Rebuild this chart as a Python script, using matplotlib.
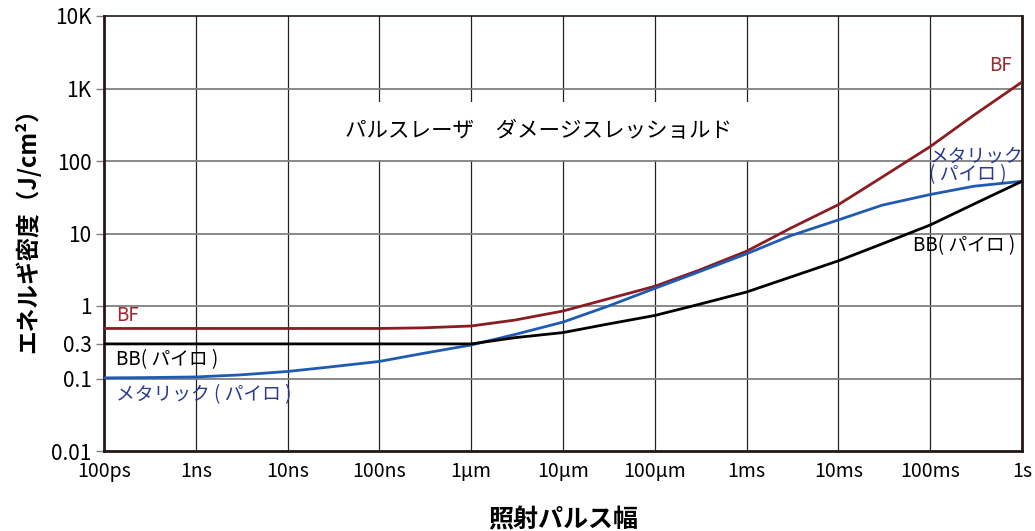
import numpy as np
import matplotlib
matplotlib.use('Agg')
import matplotlib.pyplot as plt
from matplotlib.ticker import FixedLocator, NullLocator

plt.rcParams['font.family'] = ['Noto Sans CJK JP', 'DejaVu Sans']

# pulse width (s), read at decade and half-decade points
t = [1e-10, 3e-10, 1e-9, 3e-9, 1e-8, 3e-8, 1e-7, 3e-7, 1e-6, 3e-6, 1e-5, 3e-5,
     1e-4, 3e-4, 1e-3, 3e-3, 1e-2, 3e-2, 1e-1, 3e-1, 1.0]

# damage threshold (J/cm2)
bf = [0.49, 0.49, 0.49, 0.49, 0.49, 0.49, 0.49, 0.50, 0.53, 0.64, 0.853, 1.24,
      1.87, 3.1, 5.7, 11.8, 25, 60, 158, 430, 1230]
bb = [0.3, 0.3, 0.3, 0.3, 0.3, 0.3, 0.3, 0.3, 0.3, 0.366, 0.43, 0.56,
      0.74, 1.05, 1.56, 2.5, 4.2, 7.2, 13.1, 25.5, 52.5]
metal = [0.102, 0.103, 0.105, 0.112, 0.125, 0.145, 0.172, 0.222, 0.29, 0.405, 0.6, 0.98,
         1.75, 2.95, 5.25, 9.3, 15.4, 24.6, 34.5, 44.9, 52.5]

x_ticks = [1e-10, 1e-9, 1e-8, 1e-7, 1e-6, 1e-5, 1e-4, 1e-3, 1e-2, 1e-1, 1.0]
x_labels = ['100ps', '1ns', '10ns', '100ns', '1µm', '10µm', '100µm', '1ms', '10ms', '100ms', '1s']
y_ticks = [0.01, 0.1, 0.3, 1, 10, 100, 1000, 10000]
y_labels = ['0.01', '0.1', '0.3', '1', '10', '100', '1K', '10K']
y_grid = [0.01, 0.1, 1, 10, 100, 1000, 10000]

red = '#8a1c22'
blue = '#1f5bb3'
navy = '#2b3990'
axcol = '#231815'

fig = plt.figure(figsize=(10.35, 5.31), dpi=100)
ax = fig.add_axes([104/1035, 1 - 451/531, (1022-104)/1035, (451-16)/531])
ax.set_xscale('log')
ax.set_yscale('log')
ax.set_xlim(1e-10, 1.0)
ax.set_ylim(0.01, 10000)

for x in x_ticks[1:-1]:
    ax.axvline(x, color='#222222', lw=0.9, zorder=1)
for y in y_grid[1:-1]:
    ax.axhline(y, color='#808080', lw=1.3, zorder=1)

ax.plot(t, bf, color=red, lw=2, zorder=3)
ax.plot(t, metal, color=blue, lw=2, zorder=3)
ax.plot(t, bb, color='black', lw=2, zorder=3)

ax.xaxis.set_major_locator(FixedLocator(x_ticks))
ax.xaxis.set_minor_locator(NullLocator())
ax.set_xticklabels(x_labels)
ax.yaxis.set_major_locator(FixedLocator(y_ticks))
ax.yaxis.set_minor_locator(NullLocator())
ax.set_yticklabels(y_labels)
ax.tick_params(axis='x', length=0, labelsize=14, pad=7)
ax.tick_params(axis='y', length=6, width=1, color='#808080', labelsize=15, pad=3)

for s in ax.spines.values():
    s.set_color(axcol)
    s.set_linewidth(2)
ax.spines['top'].set_linewidth(1.2)

ax.set_xlabel('照射パルス幅', fontsize=18, fontweight='bold', labelpad=19)
ax.set_ylabel('エネルギ密度（J/cm²）', fontsize=17, fontweight='bold')
ax.yaxis.set_label_coords(-0.069, 0.52)

ax.text(0.473, 0.7356, 'パルスレーザ　ダメージスレッショルド', transform=ax.transAxes,
        ha='center', va='center', fontsize=15.5, color='black', zorder=4,
        bbox=dict(facecolor='white', edgecolor='none', pad=13))

ax.text(1.35e-10, 0.74, 'BF', color='#a0282d', fontsize=13.5, va='center', zorder=4)
ax.text(1.35e-10, 0.183, 'BB( パイロ )', color='black', fontsize=13.5, va='center', zorder=4)
ax.text(1.35e-10, 0.06, 'メタリック ( パイロ )', color=navy, fontsize=13.5, va='center', zorder=4)
ax.text(0.78, 2050, 'BF', color='#a0282d', fontsize=13.5, ha='right', va='center', zorder=4)
ax.text(0.098, 86, 'メタリック\n( パイロ )', color=navy, fontsize=13.5, ha='left', va='center',
        linespacing=0.85, zorder=4)
ax.text(0.84, 6.8, 'BB( パイロ )', color='black', fontsize=13.5, ha='right', va='center', zorder=4)

fig.savefig('out.png', dpi=100)
